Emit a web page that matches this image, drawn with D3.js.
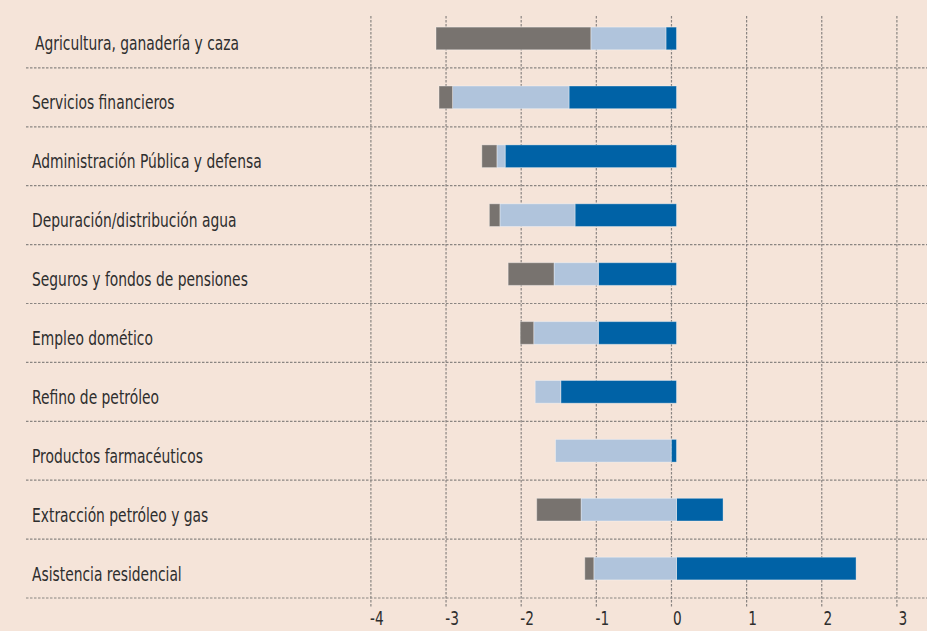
<!DOCTYPE html>
<html>
<head>
<meta charset="utf-8">
<script src="https://cdn.jsdelivr.net/npm/d3@7"></script>
<style>
  html, body { margin: 0; padding: 0; background: #f5e4d9; }
  svg { display: block; }
  .lbl { font-family: "DejaVu Sans Condensed", "DejaVu Sans", sans-serif; font-stretch: condensed; fill: #2e2e2e; }
</style>
</head>
<body>
<div id="chart"></div>
<script>
const categories = [
  'Agricultura, ganadería y caza',
  'Servicios financieros',
  'Administración Pública y defensa',
  'Depuración/distribución agua',
  'Seguros y fondos de pensiones',
  'Empleo domético',
  'Refino de petróleo',
  'Productos farmacéuticos',
  'Extracción petróleo y gas',
  'Asistencia residencial'
];
// three series, stacked from zero outwards
const darkBlue  = [-0.14, -1.43, -2.28, -1.35, -1.04, -1.04, -1.54, -0.07, 0.62, 2.39];
const lightBlue = [-1.00, -1.55, -0.11, -1.00, -0.59, -0.86, -0.34, -1.54, -1.27, -1.10];
const grey      = [-2.06, -0.18, -0.20, -0.14, -0.61, -0.18, 0, 0, -0.59, -0.12];
const tickValues = [-4, -3, -2, -1, 0, 1, 2, 3];

const W = 927, H = 631;

const rows = categories.map((c, i) => ({ cat: c, dark: darkBlue[i], light: lightBlue[i], grey: grey[i] }));
const keys = ['dark', 'light', 'grey'];
const colors = { dark: '#0062a6', light: '#b0c4dc', grey: '#78736f' };

const stack = d3.stack().keys(keys).offset(d3.stackOffsetDiverging);
const series = stack(rows);

const x = d3.scaleLinear().domain([-4, 3]).range([375.9, 901.9]);
const y = d3.scaleBand().domain(categories).range([9, 598]).paddingInner(0.615).paddingOuter(0.3075);
const step = y.step();

const svg = d3.select('#chart').append('svg')
  .attr('width', W).attr('height', H);

svg.append('rect').attr('width', W).attr('height', H).attr('fill', '#f5e4d9');

// vertical grid (drawn slightly left of the bar zero, as in the original)
const grid = svg.append('g').attr('transform', 'translate(-5,0)');
grid.selectAll('line')
  .data(tickValues)
  .enter().append('line')
  .attr('x1', d => x(d)).attr('x2', d => x(d))
  .attr('y1', 16).attr('y2', 607)
  .attr('stroke', '#8a8582')
  .attr('stroke-width', 1.2)
  .attr('stroke-dasharray', '2.5,1.5');

// row separators
svg.append('g').selectAll('line')
  .data(categories)
  .enter().append('line')
  .attr('x1', 26).attr('x2', W)
  .attr('y1', d => y(d) + y.bandwidth() + (step - y.bandwidth()) / 2)
  .attr('y2', d => y(d) + y.bandwidth() + (step - y.bandwidth()) / 2)
  .attr('stroke', '#8a8582')
  .attr('stroke-width', 1.2)
  .attr('stroke-dasharray', '2.5,1.5');

// bars
svg.append('g').selectAll('g')
  .data(series)
  .enter().append('g')
  .attr('fill', d => colors[d.key])
  .selectAll('rect')
  .data(d => d)
  .enter().append('rect')
  .attr('x', d => x(Math.min(d[0], d[1])))
  .attr('width', d => Math.abs(x(d[1]) - x(d[0])))
  .attr('y', d => y(d.data.cat))
  .attr('height', y.bandwidth())
  .attr('stroke', 'rgba(255,255,255,0.35)')
  .attr('stroke-width', 1);

// squeeze text horizontally to mimic the narrow newspaper font
function condense(sel, k) {
  sel.each(function() {
    const len = this.getComputedTextLength();
    d3.select(this).attr('textLength', len * k).attr('lengthAdjust', 'spacingAndGlyphs');
  });
}

// category labels
svg.append('g').selectAll('text')
  .data(categories)
  .enter().append('text')
  .attr('class', 'lbl')
  .attr('x', (d, i) => i === 0 ? 35 : 32)
  .attr('y', d => y(d) + y.bandwidth() / 2 + 12)
  .style('font-size', '20px')
  .text(d => d)
  .call(condense, 0.77);

// x tick labels
svg.append('g').selectAll('text')
  .data(tickValues)
  .enter().append('text')
  .attr('class', 'lbl')
  .attr('x', d => x(d) + 1)
  .attr('y', 625)
  .attr('text-anchor', 'middle')
  .style('font-size', '19px')
  .text(d => d)
  .call(condense, 0.8);
</script>
</body>
</html>
